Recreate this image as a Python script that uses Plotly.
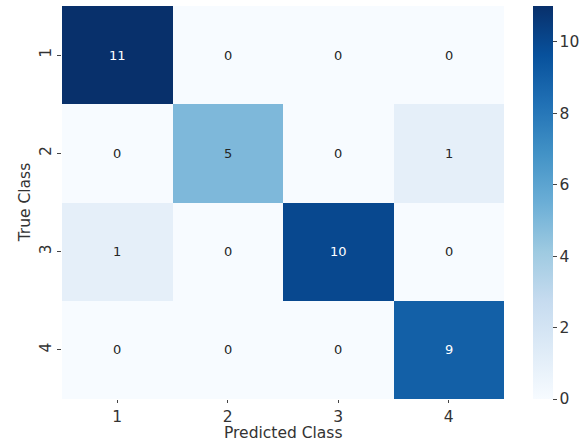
import plotly.graph_objects as go

classes = ["1", "2", "3", "4"]
matrix = [
    [11, 0, 0, 0],
    [0, 5, 0, 1],
    [1, 0, 10, 0],
    [0, 0, 0, 9],
]
cbar_ticks = [0, 2, 4, 6, 8, 10]

zmax = max(max(r) for r in matrix)
idx = list(range(len(classes)))
FS = 15.5

fig = go.Figure(go.Heatmap(
    z=matrix, x=idx, y=idx,
    colorscale="Blues", zmin=0, zmax=zmax,
    xgap=0, ygap=0,
    colorbar=dict(
        thickness=20, len=1, lenmode="fraction", y=0.5, yanchor="middle",
        x=1.0656, xanchor="left", xpad=0, ypad=0, outlinewidth=0,
        tickvals=cbar_ticks, ticks="outside", ticklen=4, tickcolor="#444",
        tickfont=dict(family="DejaVu Sans", size=FS, color="#333"),
    ),
))

annotations = []
for i, row in enumerate(matrix):
    for j, v in enumerate(row):
        annotations.append(dict(
            x=j, y=i, xref="x", yref="y",
            text=str(v), showarrow=False,
            font=dict(family="DejaVu Sans", size=13,
                      color="white" if v > zmax / 2 else "#262626"),
        ))

# axis titles placed as paper annotations
annotations.append(dict(
    x=-0.084, y=0.5, xref="paper", yref="paper", xanchor="center", yanchor="middle",
    text="True Class", textangle=-90, showarrow=False,
    font=dict(family="DejaVu Sans", size=FS, color="#333"),
))
annotations.append(dict(
    x=0.5, y=-0.086, xref="paper", yref="paper", xanchor="center", yanchor="middle",
    text="Predicted Class", showarrow=False,
    font=dict(family="DejaVu Sans", size=FS, color="#333"),
))

n = len(classes)
fig.update_layout(
    width=586, height=441,
    margin=dict(l=62, r=82, t=6, b=42),
    paper_bgcolor="white", plot_bgcolor="white",
    annotations=annotations,
    xaxis=dict(
        range=[-0.5, n - 0.5], tickvals=idx, ticktext=classes, automargin=False,
        ticks="outside", ticklen=3, tickcolor="#444", showgrid=False, zeroline=False,
        tickfont=dict(family="DejaVu Sans", size=FS, color="#333"),
    ),
    yaxis=dict(
        range=[n - 0.5, -0.5], tickvals=idx, ticktext=classes, automargin=False,
        tickangle=-90,
        ticks="outside", ticklen=4, tickcolor="#444", showgrid=False, zeroline=False,
        tickfont=dict(family="DejaVu Sans", size=FS, color="#333"),
    ),
)

fig.write_html("out.html")
